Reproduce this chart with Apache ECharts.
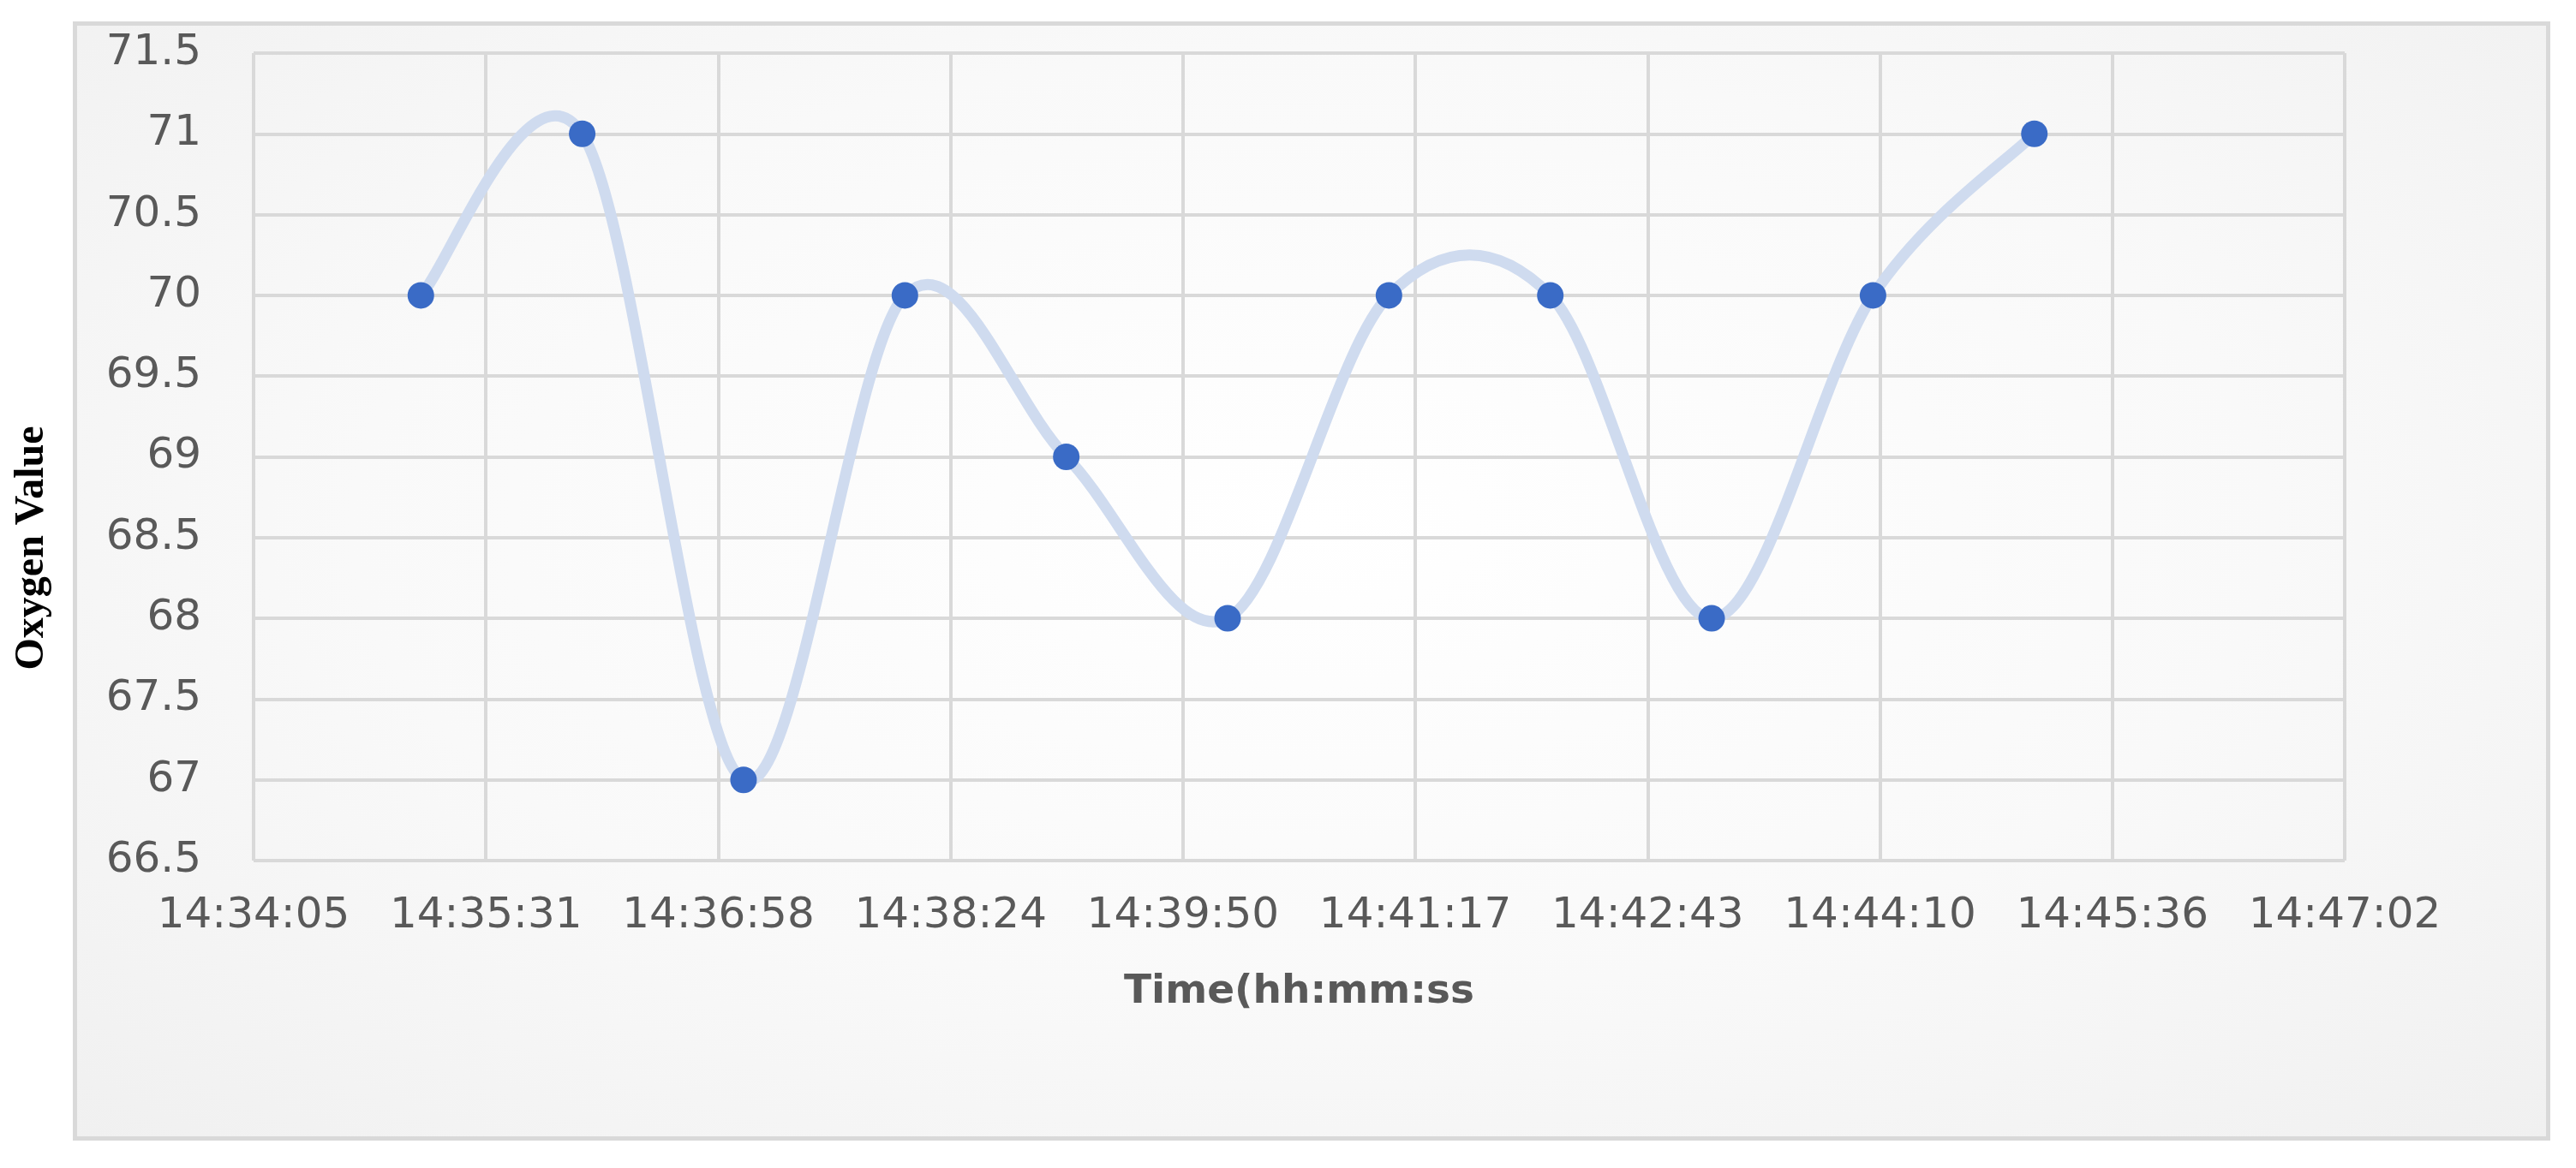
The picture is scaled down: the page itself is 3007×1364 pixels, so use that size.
<!DOCTYPE html>
<html>
<head>
<meta charset="utf-8">
<script src="https://cdn.jsdelivr.net/npm/echarts@6/dist/echarts.min.js"></script>
<style>
  html, body { margin: 0; padding: 0; background: #fff; }
  .frame {
    position: absolute;
    left: 85px; top: 25px;
    width: 2892px; height: 1307px;
    box-sizing: border-box;
    border: 5px solid #d9d9d9;
    background: radial-gradient(ellipse at 50% 45%, #ffffff 0%, #f9f9f9 55%, #f0f0f0 100%);
  }
  .chart-container {
    position: absolute;
    left: 0; top: 0;
    width: 3007px; height: 1364px;
  }
</style>
</head>
<body>
<div class="frame"></div>
<div id="chart" class="chart-container"></div>
<script>
// readings, one per minute
const times = ['14:35:07', '14:36:07', '14:37:07', '14:38:07', '14:39:07', '14:40:07',
  '14:41:07', '14:42:07', '14:43:07', '14:44:07', '14:45:07']
const oxygen = [70, 71, 67, 70, 69, 68, 70, 70, 68, 70, 71]

// excel time axis: 0.001 day steps = 86.4 s, starting at 14:34:05 (607 * 86.4 s)
const xStep = 86.4
const xMin = 607 * xStep
const xMax = 616 * xStep
const yMin = 66.5
const yMax = 71.5
const yStep = 0.5

const toSec = (t) => {
  const [h, m, s] = t.split(':').map(Number)
  return h * 3600 + m * 60 + s
}
const pad = (n) => String(n).padStart(2, '0')
const fmtTime = (v) => {
  const s = Math.round(v)
  return pad(Math.floor(s / 3600)) + ':' + pad(Math.floor(s / 60) % 60) + ':' + pad(s % 60)
}

const points = times.map((t, i) => [toSec(t), oxygen[i]])

const labelFont = 'DejaVu Sans'
const gridColor = '#d9d9d9'

// excel style smoothed line: catmull-rom segment from point i to i+1
const renderSegment = (params, api) => {
  const i = params.dataIndex
  const n = points.length
  if (i >= n - 1) return null
  const p0 = api.coord(points[Math.max(i - 1, 0)])
  const p1 = api.coord(points[i])
  const p2 = api.coord(points[i + 1])
  const p3 = api.coord(points[Math.min(i + 2, n - 1)])
  return {
    type: 'bezierCurve',
    shape: {
      x1: p1[0], y1: p1[1],
      x2: p2[0], y2: p2[1],
      cpx1: p1[0] + (p2[0] - p0[0]) / 6,
      cpy1: p1[1] + (p2[1] - p0[1]) / 6,
      cpx2: p2[0] - (p3[0] - p1[0]) / 6,
      cpy2: p2[1] - (p3[1] - p1[1]) / 6
    },
    style: { stroke: '#cfdbef', lineWidth: 13, fill: null, lineCap: 'round' }
  }
}

const chart = echarts.init(document.getElementById('chart'))
chart.setOption({
  animation: false,
  backgroundColor: 'transparent',
  grid: { left: 296, right: 270, top: 62, bottom: 359 },
  xAxis: {
    type: 'value',
    min: xMin,
    max: xMax,
    interval: xStep,
    axisLine: { show: false },
    axisTick: { show: false },
    splitLine: { show: true, lineStyle: { color: gridColor, width: 4 } },
    axisLabel: {
      formatter: fmtTime,
      color: '#595959',
      fontFamily: labelFont,
      fontSize: 50,
      margin: 40
    },
    name: 'Time(hh:mm:ss',
    nameLocation: 'middle',
    nameGap: 130,
    nameTextStyle: {
      color: '#595959',
      fontFamily: labelFont,
      fontWeight: 'bold',
      fontSize: 47
    }
  },
  yAxis: {
    type: 'value',
    min: yMin,
    max: yMax,
    interval: yStep,
    axisLine: { show: false },
    axisTick: { show: false },
    splitLine: { show: true, lineStyle: { color: gridColor, width: 4 } },
    axisLabel: {
      color: '#595959',
      fontFamily: labelFont,
      fontSize: 50,
      margin: 61
    }
  },
  graphic: [{
    type: 'text',
    x: 38,
    y: 640,
    rotation: Math.PI / 2,
    style: {
      text: 'Oxygen Value',
      fill: '#000',
      font: 'bold 48px "Liberation Serif"',
      textAlign: 'center',
      textVerticalAlign: 'middle'
    }
  }],
  series: [
    {
      type: 'custom',
      data: points,
      encode: { x: 0, y: 1 },
      renderItem: renderSegment,
      clip: false,
      z: 2
    },
    {
      type: 'scatter',
      data: points,
      symbol: 'circle',
      symbolSize: 31,
      itemStyle: { color: '#3a6bc6', opacity: 1 },
      z: 3
    }
  ]
})
</script>
</body>
</html>
